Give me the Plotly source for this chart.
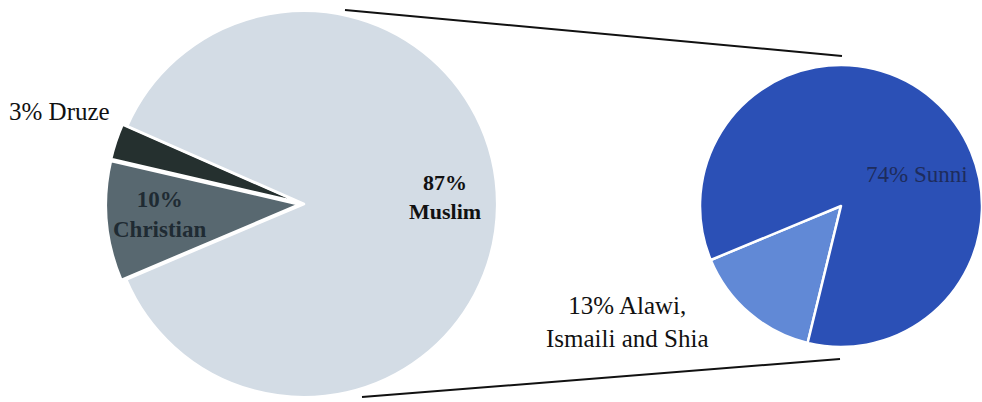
import plotly.graph_objects as go

W, H = 982, 402

# ---- data ----
main_labels = ["Druze", "Christian", "Muslim"]
main_values = [3, 10, 87]
main_colors = ["#25302f", "#586870", "#d3dce5"]

sub_labels = ["Alawi, Ismaili and Shia", "Sunni"]
sub_values = [13, 74]
sub_colors = ["#6189d6", "#2b50b6"]


def px_x(x):
    return x / W


def px_y(y):
    return 1 - y / H


fig = go.Figure()

fig.add_trace(go.Pie(
    labels=main_labels, values=main_values, sort=False,
    direction="counterclockwise", rotation=-77,
    marker=dict(colors=main_colors, line=dict(color="white", width=2.5)),
    pull=[0.025, 0.025, 0], textinfo="none", hoverinfo="label+percent",
    domain=dict(x=[px_x(106), px_x(502)], y=[px_y(402), px_y(6)]),
    showlegend=False,
))

fig.add_trace(go.Pie(
    labels=sub_labels, values=sub_values, sort=False,
    direction="counterclockwise", rotation=-166.3,
    marker=dict(colors=sub_colors, line=dict(color="white", width=2.5)),
    textinfo="none", hoverinfo="label+value",
    domain=dict(x=[px_x(700), px_x(982)], y=[px_y(348), px_y(64)]),
    showlegend=False,
))

serif = "Liberation Serif, Times New Roman, serif"

annos = [
    # (text, x, y, size, color, bold)
    (f"{main_values[0]}% {main_labels[0]}", 59, 111, 25, "#111111", False),
    (f"{main_values[1]}%<br>{main_labels[1]}", 160, 214, 23, "#1f2b33", True),
    (f"{main_values[2]}%<br>{main_labels[2]}", 445, 197, 22, "#111111", True),
    (f"{sub_values[1]}% {sub_labels[1]}", 917, 175, 23, "#1e2c5c", False),
    (f"{sub_values[0]}% Alawi,<br>Ismaili and Shia", 627, 322, 25, "#111111", False),
]
for text, x, y, size, color, bold in annos:
    fig.add_annotation(
        x=px_x(x), y=px_y(y), xref="paper", yref="paper",
        text=f"<b>{text}</b>" if bold else text, showarrow=False,
        font=dict(family=serif, size=size, color=color),
        xanchor="center", yanchor="middle", align="center",
    )

# connector lines between the two pies
fig.add_shape(type="line", xref="paper", yref="paper",
              x0=px_x(345), y0=px_y(10), x1=px_x(842), y1=px_y(56),
              line=dict(color="#111111", width=2))
fig.add_shape(type="line", xref="paper", yref="paper",
              x0=px_x(362), y0=px_y(397), x1=px_x(840), y1=px_y(359),
              line=dict(color="#111111", width=2))

fig.update_layout(
    width=W, height=H, margin=dict(l=0, r=0, t=0, b=0),
    paper_bgcolor="white", plot_bgcolor="white",
)

fig.write_html("out.html",
               config={"displayModeBar": False},
               post_script="document.body.style.margin='0';")
